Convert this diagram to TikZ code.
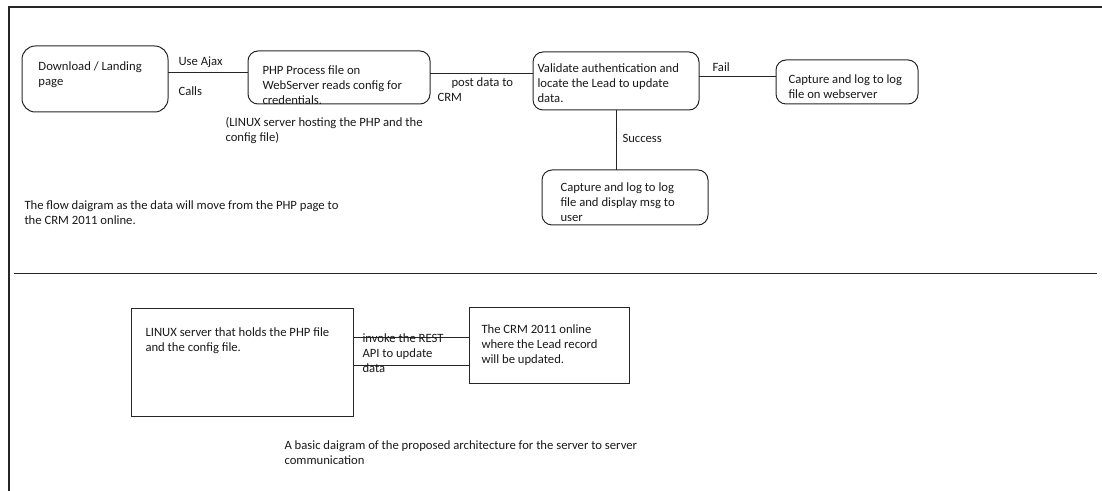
\documentclass[tikz,border=0pt]{standalone}
\usepackage{fontspec}
\setmainfont{Carlito}
\begin{document}
\begin{tikzpicture}[x=0.75pt,y=-0.75pt,
  line width=0.75pt,
  rbox/.style={draw=black!85, rectangle, rounded corners=7.5pt, inner sep=0pt, outer sep=0pt},
  sbox/.style={draw=black!85, rectangle, inner sep=0pt, outer sep=0pt},
  txt/.style={inner sep=0pt, anchor=north west, align=left, text=black!90, font=\fontsize{9.5}{11.25}\selectfont},
  conn/.style={draw=black!85, line width=0.75pt}]
\useasboundingbox (0,0) rectangle (1102,491);
% frame
\draw[line width=1.5pt, black!85] (1102,7) -- (9,7) -- (9,491);
\draw[black!85] (14,274) -- (1097,274);
% boxes
\node[rbox, rounded corners=10pt, minimum width=109.5pt, minimum height=49.5pt] (b1) at (95,79) {};
\node[rbox, minimum width=136.5pt, minimum height=39.75pt] (b2) at (339,77.5) {};
\node[rbox, minimum width=124.5pt, minimum height=43.5pt] (b3) at (616,81) {};
\node[rbox, minimum width=106.5pt, minimum height=33pt] (b4) at (847,82) {};
\node[rbox, minimum width=124.5pt, minimum height=41.25pt] (b5) at (625,197.5) {};
\node[sbox, minimum width=166.5pt, minimum height=80.25pt] (b6) at (242,362.5) {};
\node[sbox, minimum width=120pt, minimum height=56.25pt] (b7) at (549,345.5) {};
% connector rows
\coordinate (r1) at (0,73);
\coordinate (r2) at (0,74);
\coordinate (r3) at (0,77);
\coordinate (r5) at (0,338);
\coordinate (r6) at (0,365);
\draw[conn] (b1.east |- r1) -- (b2.west |- r1);
\draw[conn] (b2.east |- r2) -- (b3.west |- r2);
\draw[conn] (b3.east |- r3) -- (b4.west |- r3);
\draw[conn] (b3.south) -- (b5.north -| b3.south);
\draw[conn] (b6.east |- r5) -- (b7.west |- r5);
\draw[conn] (b6.east |- r6) -- (b7.west |- r6);
% texts
\node[txt] (t1) at (38,59.5) {\strut Download / Landing\\page};
\node[txt] (l1a) at (178,54.5) {\strut Use Ajax};
\node[txt] (l1b) at (178,84.5) {\strut Calls};
\node[txt] (t2) at (262,63.5) {\strut PHP Process file on\\WebServer reads config for\\credentials.};
\node[txt] (n2) at (225,115.5) {\strut (LINUX server hosting the PHP and the\\config file)};
\node[txt] (l2a) at (451,75.5) {\strut post data to};
\node[txt] (l2b) at (437,90.5) {\strut CRM};
\node[txt] (t3) at (537,61.5) {\strut Validate authentication and\\locate the Lead to update\\data.};
\node[txt] (l3) at (712,60.5) {\strut Fail};
\node[txt] (t4) at (788,72.5) {\strut Capture and log to log\\file on webserver};
\node[txt] (l4) at (622,131.5) {\strut Success};
\node[txt] (t5) at (560,180.5) {\strut Capture and log to log\\file and display msg to\\user};
\node[txt] (c1) at (24,198.5) {\strut The flow daigram as the data will move from the PHP page to\\the CRM 2011 online.};
\node[txt] (t6) at (145,325.5) {\strut LINUX server that holds the PHP file\\and the config file.};
\node[txt] (l6) at (362,331.5) {\strut invoke the REST\\API to update\\data};
\node[txt] (t7) at (481,322.5) {\strut The CRM 2011 online\\where the Lead record\\will be updated.};
\node[txt] (c2) at (284,438.5) {\strut A basic daigram of the proposed architecture for the server to server\\communication};
\end{tikzpicture}
\end{document}
